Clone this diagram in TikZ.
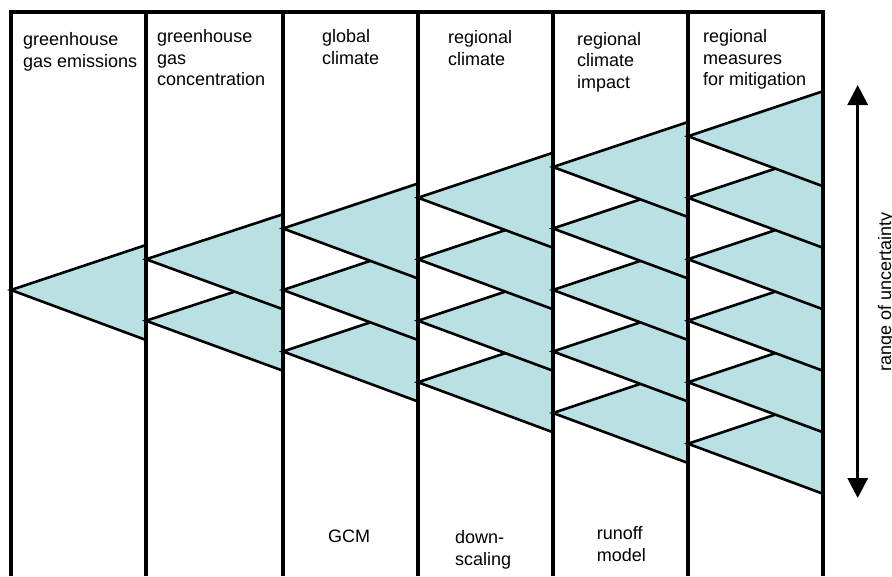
\documentclass[tikz,border=0pt]{standalone}
\usepackage{fontspec}
\setmainfont{Liberation Sans}
\usetikzlibrary{arrows.meta}
\definecolor{bandblue}{RGB}{185,224,227}

\begin{document}
\begin{tikzpicture}[
            x=1pt, y=-1pt,
            wedge/.style={fill=bandblue, draw=black, line width=2.6pt, line join=miter},
            colline/.style={line width=3.5pt},
            coltext/.style={inner sep=0pt, anchor=north west, align=left, font=\fontsize{18}{21.5}\selectfont}
        ]
        \useasboundingbox (0,0) rectangle (892,576);
        % wedges, lowest one first in each column
        \foreach \k/\xl/\xr in {1/11/146, 2/146/283, 3/283/418, 4/418/553, 5/553/688, 6/688/823} {
                \foreach \j in {\k,...,1} {
                        \pgfmathsetmacro{\ya}{290+(\j-(\k+1)/2)*61.5}
                        \draw[wedge] (\xl,\ya) -- (\xr,\ya-45) -- (\xr,\ya+50) -- cycle;
                    }
            }
        % frame and column rules
        \draw[colline, line join=miter] (11,576) -- (11,12) -- (823,12) -- (823,576);
        \foreach \x in {146,283,418,553,688}
        \draw[colline] (\x,12) -- (\x,576);
        % column heads
        \node[coltext] (emis) at (23,32.7) {greenhouse\\gas emissions};
        \node[coltext] (conc) at (157,29.6) {greenhouse\\gas\\concentration};
        \node[coltext] (glob) at (322,29.6) {global\\climate};
        \node[coltext] (regc) at (448,30.3) {regional\\climate};
        \node[coltext] (impa) at (577,32) {regional\\climate\\impact};
        \node[coltext] (miti) at (703,29.6) {regional\\measures\\for mitigation};
        % models
        \node[coltext] (gcm) at (328,530) {GCM};
        \node[coltext] (down) at (455,530.3) {down-\\scaling};
        \node[coltext] (runo) at (596.7,526.3) {runoff\\model};
        % range
        \coordinate (rtop) at (857.7,85);
        \coordinate (rbot) at (857.7,498);
        \draw[line width=3.3pt, {Triangle[width=20pt,length=20pt]}-{Triangle[width=20pt,length=20pt]}] (rbot) -- (rtop);
        \node[rotate=90, anchor=base, inner sep=0pt, font=\fontsize{18}{21.5}\selectfont] (range) at (891,292) {range of uncertainty};
    \end{tikzpicture}
\end{document}
